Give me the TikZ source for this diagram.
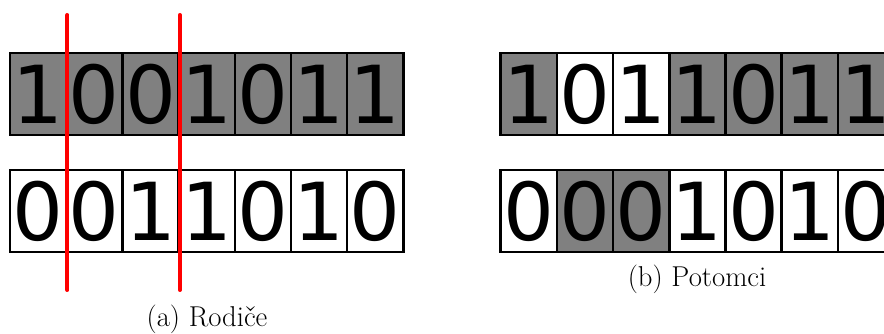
\documentclass[tikz,border=0pt]{standalone}
\usepackage{fontspec}
\newfontfamily\digitfont{DejaVu Sans}
\usetikzlibrary{positioning}

\tikzset{
  bit/.style={draw=black, line width=2.5pt, minimum width=56.2pt, minimum height=82pt,
    inner sep=0pt, font=\digitfont\fontsize{80}{80}\selectfont},
  cut/.style={red, line width=4pt, line cap=round},
  caption/.style={anchor=base, font=\fontsize{28.7}{30}\selectfont}
}

\begin{document}
\begin{tikzpicture}[x=1pt,y=1pt]
  \clip (0,0) rectangle (884,334);
  \useasboundingbox (0,0) rectangle (884,334);
  % parents
  \foreach \b [count=\i from 0] in {1,0,0,1,0,1,1}
    \node[bit, fill=gray] (pa\i) at (38.1+56.2*\i, 240) {\b};
  \foreach \b [count=\i from 0] in {0,0,1,1,0,1,0}
    \node[bit, fill=white] (pb\i) at (38.1+56.2*\i, 123) {\b};
  \coordinate (top) at (0,319);
  \coordinate (bottom) at (0,44);
  \draw[cut] (pa0.east |- top) -- (pa0.east |- bottom);
  \draw[cut] (pa2.east |- top) -- (pa2.east |- bottom);
  \node[caption] (capA) at (207,7) {(a) Rodiče};
  % offspring
  \foreach \b/\c [count=\i from 0] in {1/gray,0/white,1/white,1/gray,0/gray,1/gray,1/gray}
    \node[bit, fill=\c] (oa\i) at (528.8+56.2*\i, 240) {\b};
  \foreach \b/\c [count=\i from 0] in {0/white,0/gray,0/gray,1/white,0/white,1/white,0/white}
    \node[bit, fill=\c] (ob\i) at (528.8+56.2*\i, 123) {\b};
  \node[caption] (capB) at (697,47) {(b) Potomci};
\end{tikzpicture}
\end{document}
